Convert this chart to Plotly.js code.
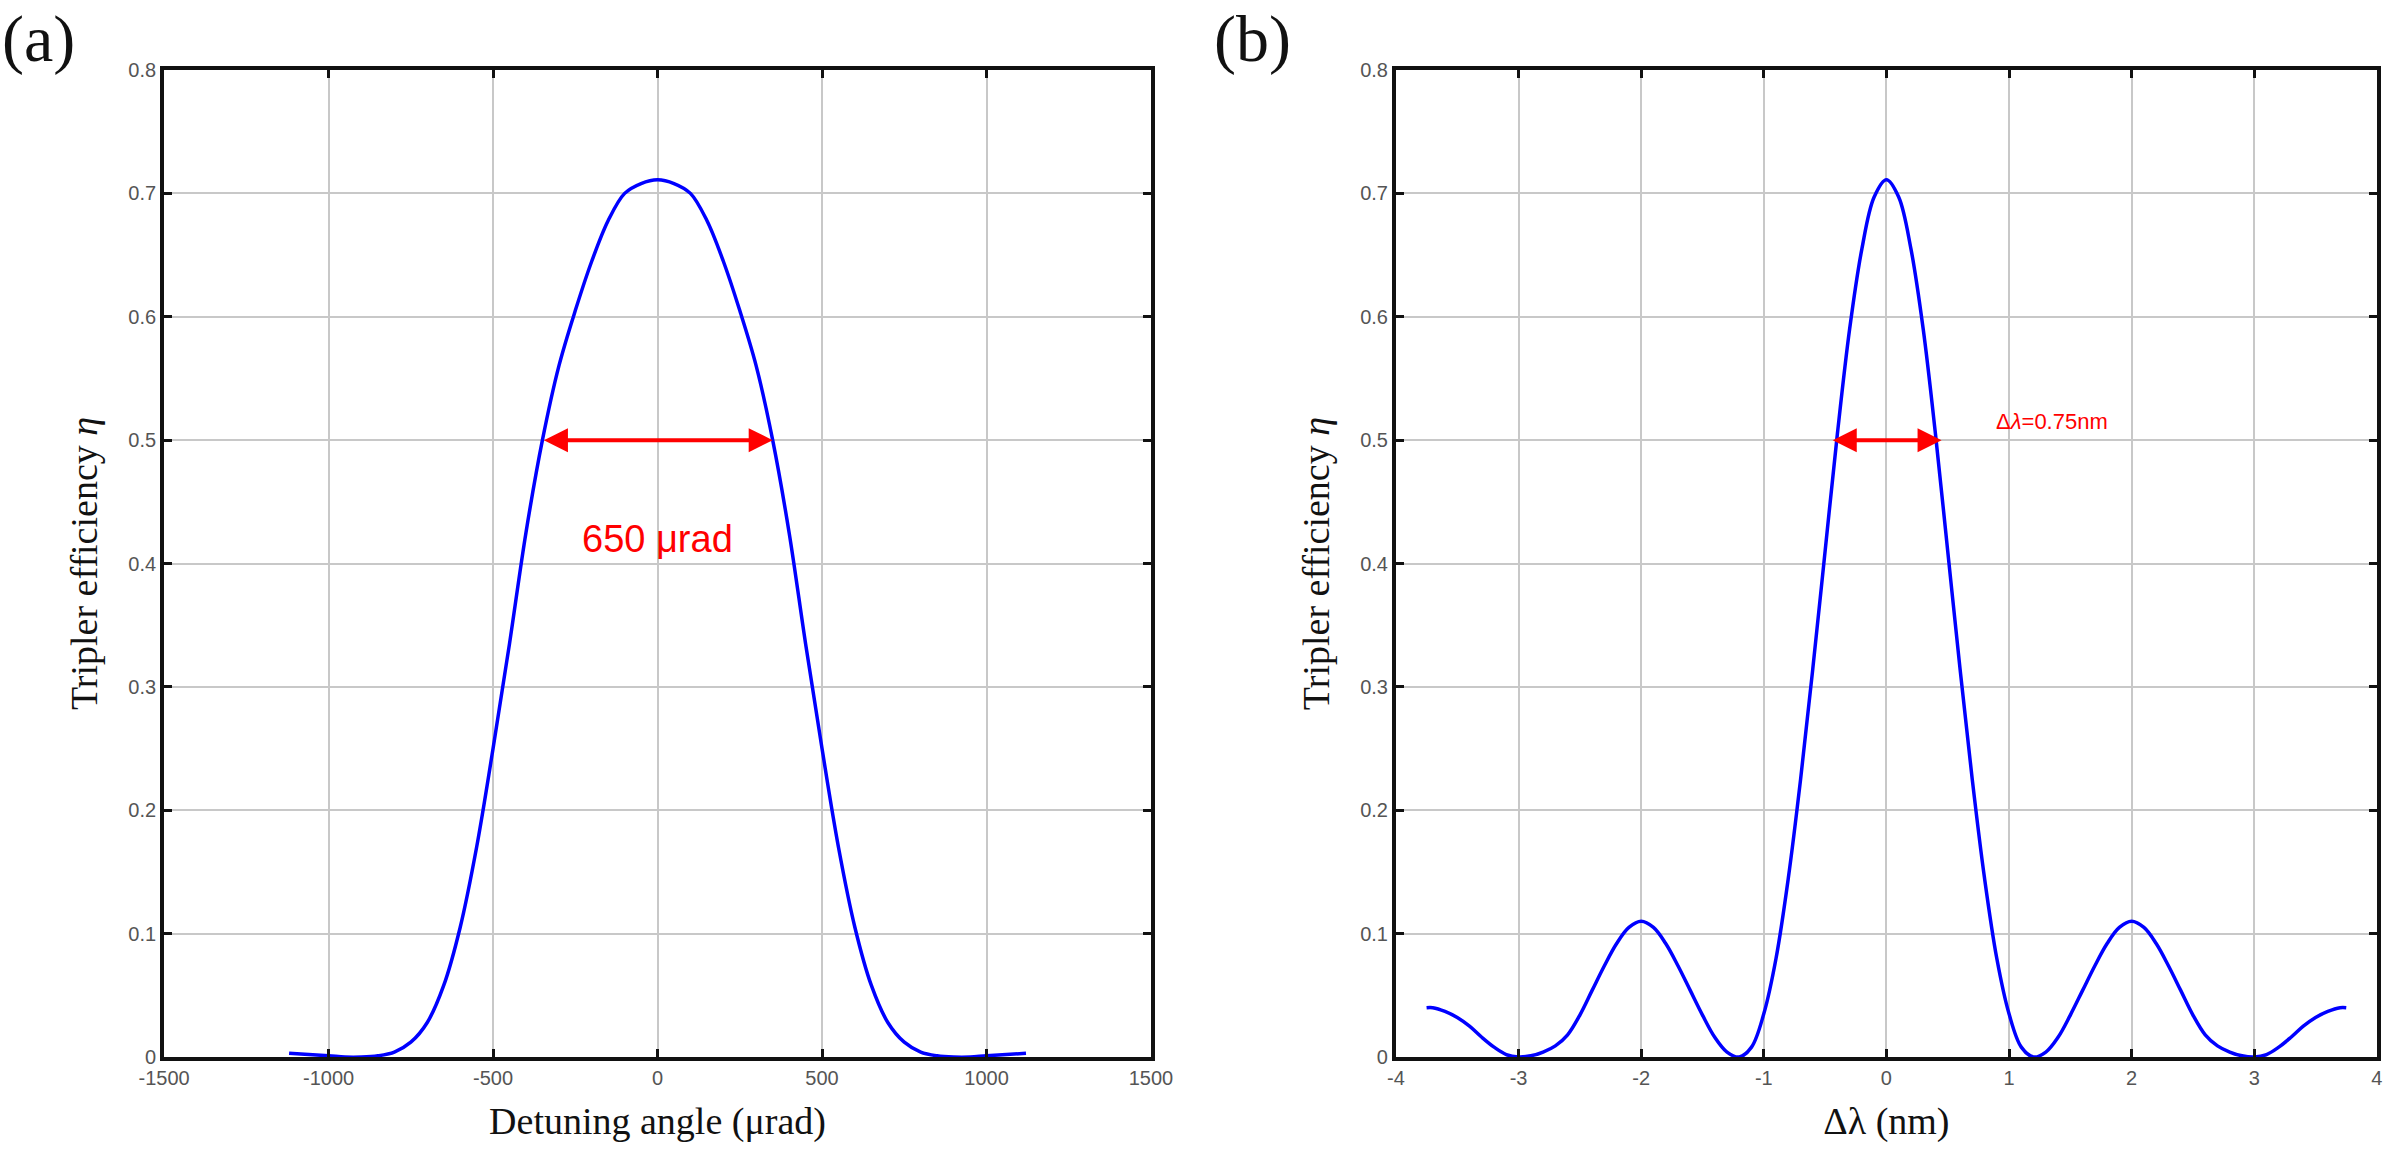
<html><head><script src="https://cdn.plot.ly/plotly-3.0.1.min.js"></script></head>
<body style="margin:0;background:#fff"><div id="g" style="width:2385px;height:1159px"></div>
<script>
const angleX = [-1120,-1000,-950,-900,-850,-800,-750,-700,-650,-600,-550,-500,-450,-400,-350,-300,-250,-200,-150,-100,-50,0,50,100,150,200,250,300,350,400,450,500,550,600,650,700,750,800,850,900,950,1000,1120];
const angleEta = [0.003,0.001,0,0,0.001,0.004,0.012,0.028,0.058,0.105,0.17,0.25,0.335,0.425,0.5,0.56,0.605,0.645,0.678,0.7,0.708,0.711,0.708,0.7,0.678,0.645,0.605,0.56,0.5,0.425,0.335,0.25,0.17,0.105,0.058,0.028,0.012,0.004,0.001,0,0,0.001,0.003];
const lamX = [-3.75,-3.7,-3.6,-3.5,-3.4,-3.3,-3.2,-3.1,-3,-2.9,-2.8,-2.7,-2.6,-2.5,-2.4,-2.3,-2.2,-2.1,-2,-1.9,-1.8,-1.7,-1.6,-1.5,-1.4,-1.3,-1.2,-1.1,-1,-0.9,-0.8,-0.7,-0.6,-0.5,-0.4,-0.3,-0.2,-0.1,0,0.1,0.2,0.3,0.4,0.5,0.6,0.7,0.8,0.9,1,1.1,1.2,1.3,1.4,1.5,1.6,1.7,1.8,1.9,2,2.1,2.2,2.3,2.4,2.5,2.6,2.7,2.8,2.9,3,3.1,3.2,3.3,3.4,3.5,3.6,3.7,3.75];
const lamEta = [0.04,0.04,0.037,0.032,0.025,0.016,0.008,0.002,0,0.001,0.004,0.009,0.018,0.034,0.054,0.074,0.092,0.105,0.11,0.105,0.092,0.074,0.054,0.034,0.016,0.004,0,0.008,0.035,0.08,0.145,0.225,0.315,0.41,0.505,0.59,0.655,0.697,0.711,0.697,0.655,0.59,0.505,0.41,0.315,0.225,0.145,0.08,0.035,0.008,0,0.004,0.016,0.034,0.054,0.074,0.092,0.105,0.11,0.105,0.092,0.074,0.054,0.034,0.018,0.009,0.004,0.001,0,0.002,0.008,0.016,0.025,0.032,0.037,0.04,0.04];
const xTicksA = [-1500,-1000,-500,0,500,1000,1500];
const xTicksB = [-4,-3,-2,-1,0,1,2,3,4];
const yTicks = [0,0.1,0.2,0.3,0.4,0.5,0.6,0.7,0.8];
const line = {color:'#0000ff', width:3.5, shape:'spline', smoothing:1};
const serif = 'Liberation Serif, Times New Roman, serif';
const ax = (dom, ticks, title, range) => ({domain:dom, range:range, tickvals:ticks, ticktext:ticks.map(String),
  showline:true, mirror:'ticks', linecolor:'#111', linewidth:4, ticks:'inside', ticklen:8, tickwidth:3, tickcolor:'#111',
  showgrid:true, gridcolor:'#c8c8c8', gridwidth:2, zeroline:false,
  tickfont:{family:'Liberation Sans, Arial', size:20, color:'#555'},
  title:{text:title, font:{family:serif, size:38, color:'#111'}, standoff:20}});
const layout = {
  width:2385, height:1159, showlegend:false, paper_bgcolor:'#fff', plot_bgcolor:'#fff',
  margin:{l:0,r:0,t:0,b:0},
  xaxis: ax([0.0688,0.4826], xTicksA, 'Detuning angle (μrad)', [-1500,1500]),
  yaxis: ax([0.088,0.9396], yTicks, 'Tripler efficiency <i>η</i>', [0,0.8]),
  xaxis2: Object.assign(ax([0.5853,0.9966], xTicksB, 'Δλ (nm)', [-4,4]), {anchor:'y2'}),
  yaxis2: Object.assign(ax([0.088,0.9396], yTicks, 'Tripler efficiency <i>η</i>', [0,0.8]), {anchor:'x2'}),
  annotations:[
    {x:350,y:0.5,ax:-350,ay:0.5,xref:'x',yref:'y',axref:'x',ayref:'y',showarrow:true,arrowside:'end+start',arrowhead:2,arrowsize:1.2,arrowwidth:4,arrowcolor:'#ff0000',text:''},
    {x:0,y:0.42,xref:'x',yref:'y',showarrow:false,text:'650 μrad',font:{family:'Liberation Sans, Arial',size:38,color:'#ff0000'}},
    {x:0.45,y:0.5,ax:-0.45,ay:0.5,xref:'x2',yref:'y2',axref:'x2',ayref:'y2',showarrow:true,arrowside:'end+start',arrowhead:2,arrowsize:1.2,arrowwidth:4,arrowcolor:'#ff0000',text:''},
    {x:1.35,y:0.515,xref:'x2',yref:'y2',showarrow:false,text:'Δ<i>λ</i>=0.75nm',font:{family:'Liberation Sans, Arial',size:22,color:'#ff0000'}},
    {x:0.0,y:1.0,xref:'paper',yref:'paper',xanchor:'left',yanchor:'top',showarrow:false,text:'(a)',font:{family:serif,size:66,color:'#111'}},
    {x:0.508,y:1.0,xref:'paper',yref:'paper',xanchor:'left',yanchor:'top',showarrow:false,text:'(b)',font:{family:serif,size:66,color:'#111'}}
  ]
};
Plotly.newPlot('g',[
  {x:angleX,y:angleEta,mode:'lines',line:line,xaxis:'x',yaxis:'y'},
  {x:lamX,y:lamEta,mode:'lines',line:line,xaxis:'x2',yaxis:'y2'}
],layout,{staticPlot:true});
</script></body></html>
